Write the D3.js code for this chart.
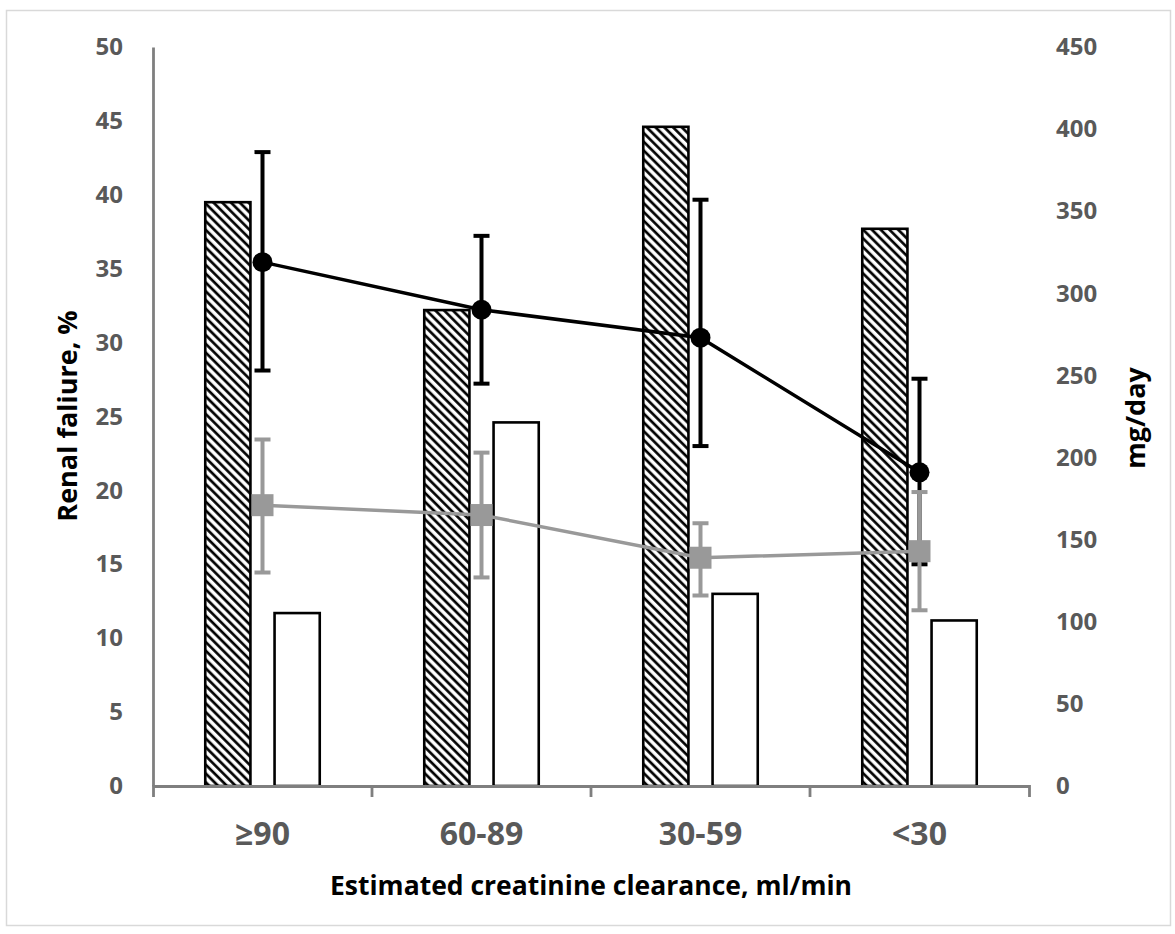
<!DOCTYPE html>
<html>
<head>
<meta charset="utf-8">
<script src="https://cdn.jsdelivr.net/npm/d3@7"></script>
<style>
  body { margin: 0; background: #fff; }
  text { font-family: "Open Sans", sans-serif; font-weight: bold; }
</style>
</head>
<body>
<div id="chart"></div>
<script>
// data
var categories = ["\u226590", "60-89", "30-59", "<30"];
var hatchedValues = [39.5, 32.2, 44.6, 37.7];   // renal failure %, hatched bars
var openValues = [11.7, 24.6, 13.0, 11.2];      // renal failure %, open bars
var blackMean = [319, 290, 273, 191];           // mg/day
var blackHi = [386, 335, 357, 248];
var blackLo = [253, 245, 207, 135];
var grayMean = [171, 165, 139, 143];            // mg/day
var grayHi = [211, 203, 160, 179];
var grayLo = [130, 127, 116, 107];
var leftTicks = [0, 5, 10, 15, 20, 25, 30, 35, 40, 45, 50];
var rightTicks = [0, 50, 100, 150, 200, 250, 300, 350, 400, 450];

var width = 1175, height = 934;
var plotLeft = 153, plotRight = 1029, plotTop = 47, plotBottom = 786;

var svg = d3.select("#chart").append("svg")
    .attr("width", width).attr("height", height);

// outer frame
svg.append("rect")
    .attr("x", 6.5).attr("y", 10.5)
    .attr("width", 1164).attr("height", 915)
    .attr("fill", "none").attr("stroke", "#d9d9d9").attr("stroke-width", 1.5);

// hatch pattern
var hp = 6.2;
var defs = svg.append("defs");
var pat = defs.append("pattern")
    .attr("id", "hatch")
    .attr("patternUnits", "userSpaceOnUse")
    .attr("width", hp).attr("height", hp)
    .attr("patternTransform", "rotate(-45)");
pat.append("rect").attr("width", hp).attr("height", hp).attr("fill", "#fff");
pat.append("line")
    .attr("x1", hp / 4).attr("y1", 0).attr("x2", hp / 4).attr("y2", hp)
    .attr("stroke", "#000").attr("stroke-width", 2.7);

// scales
var x = d3.scaleBand().domain(categories).range([plotLeft, plotRight]).padding(0);
var sub = d3.scaleBand().domain(["hatched", "open"]).range([0, x.bandwidth()])
    .paddingInner(0.348).paddingOuter(0.754);
var yL = d3.scaleLinear().domain([0, 50]).range([plotBottom, plotTop]);
var yR = d3.scaleLinear().domain([0, 450]).range([plotBottom, plotTop]);

// bars
var bars = svg.append("g");
bars.selectAll(".hatched")
    .data(categories)
    .enter()
    .append("rect")
    .attr("x", function (d) { return x(d) + sub("hatched"); })
    .attr("y", function (d, i) { return yL(hatchedValues[i]); })
    .attr("width", sub.bandwidth())
    .attr("height", function (d, i) { return yL(0) - yL(hatchedValues[i]); })
    .attr("fill", "url(#hatch)")
    .attr("stroke", "#000").attr("stroke-width", 2.6);
bars.selectAll(".open")
    .data(categories)
    .enter()
    .append("rect")
    .attr("x", function (d) { return x(d) + sub("open"); })
    .attr("y", function (d, i) { return yL(openValues[i]); })
    .attr("width", sub.bandwidth())
    .attr("height", function (d, i) { return yL(0) - yL(openValues[i]); })
    .attr("fill", "#fff")
    .attr("stroke", "#000").attr("stroke-width", 2.6);

// axes
var leftAxis = d3.axisLeft(yL).tickValues(leftTicks).tickSize(0).tickPadding(30);
var gL = svg.append("g").attr("transform", "translate(" + plotLeft + ",0)").call(leftAxis);
gL.select(".domain").attr("stroke", "#7f7f7f").attr("stroke-width", 2.8);
gL.selectAll("text").attr("fill", "#595959").style("font-size", "24px");

var rightAxis = d3.axisRight(yR).tickValues(rightTicks).tickSize(0).tickPadding(0);
var gR = svg.append("g").attr("transform", "translate(1056,0)").call(rightAxis);
gR.select(".domain").remove();
gR.selectAll("text").attr("fill", "#595959").style("font-size", "24px");

var bottomAxis = d3.axisBottom(x).tickSizeInner(0).tickSizeOuter(11).tickPadding(36);
var gB = svg.append("g").attr("transform", "translate(0," + plotBottom + ")").call(bottomAxis);
gB.select(".domain").attr("stroke", "#7f7f7f").attr("stroke-width", 2.8);
gB.selectAll("text").attr("fill", "#595959").style("font-size", "32px");
gB.selectAll(".sep")
    .data(categories.slice(1))
    .enter()
    .append("line")
    .attr("x1", function (d) { return x(d); })
    .attr("x2", function (d) { return x(d); })
    .attr("y1", 0).attr("y2", 11)
    .attr("stroke", "#7f7f7f").attr("stroke-width", 2.8);

// series helper
function drawSeries(mean, hi, lo, color, marker) {
    var g = svg.append("g");
    var cx = function (d, i) { return x(categories[i]) + x.bandwidth() / 2; };
    g.selectAll(".err")
        .data(mean)
        .enter()
        .append("line")
        .attr("x1", cx).attr("x2", cx)
        .attr("y1", function (d, i) { return yR(hi[i]); })
        .attr("y2", function (d, i) { return yR(lo[i]); })
        .attr("stroke", color).attr("stroke-width", 4);
    [hi, lo].forEach(function (ends, k) {
        g.selectAll(".cap" + k)
            .data(ends)
            .enter()
            .append("line")
            .attr("x1", function (d, i) { return cx(d, i) - 8; })
            .attr("x2", function (d, i) { return cx(d, i) + 8; })
            .attr("y1", function (d) { return yR(d); })
            .attr("y2", function (d) { return yR(d); })
            .attr("stroke", color).attr("stroke-width", 4);
    });
    var line = d3.line().x(cx).y(function (d) { return yR(d); });
    g.append("path")
        .datum(mean)
        .attr("d", line)
        .attr("fill", "none").attr("stroke", color).attr("stroke-width", 3.5);
    if (marker == "circle") {
        g.selectAll("circle")
            .data(mean)
            .enter()
            .append("circle")
            .attr("cx", cx)
            .attr("cy", function (d) { return yR(d); })
            .attr("r", 10)
            .attr("fill", color);
    } else {
        g.selectAll(".sq")
            .data(mean)
            .enter()
            .append("rect")
            .attr("x", function (d, i) { return cx(d, i) - 11; })
            .attr("y", function (d) { return yR(d) - 11; })
            .attr("width", 22).attr("height", 22)
            .attr("fill", color);
    }
}
drawSeries(blackMean, blackHi, blackLo, "#000", "circle");
drawSeries(grayMean, grayHi, grayLo, "#999999", "square");

// axis titles
svg.append("text")
    .attr("text-anchor", "middle")
    .attr("x", (plotLeft + plotRight) / 2)
    .attr("y", 895)
    .style("font-size", "26.5px")
    .text("Estimated creatinine clearance, ml/min");
svg.append("text")
    .attr("text-anchor", "middle")
    .attr("transform", "translate(77,416) rotate(-90)")
    .style("font-size", "27px")
    .text("Renal faliure, %");
svg.append("text")
    .attr("text-anchor", "middle")
    .attr("transform", "translate(1145,418) rotate(-90)")
    .style("font-size", "27px")
    .text("mg/day");
</script>
</body>
</html>
